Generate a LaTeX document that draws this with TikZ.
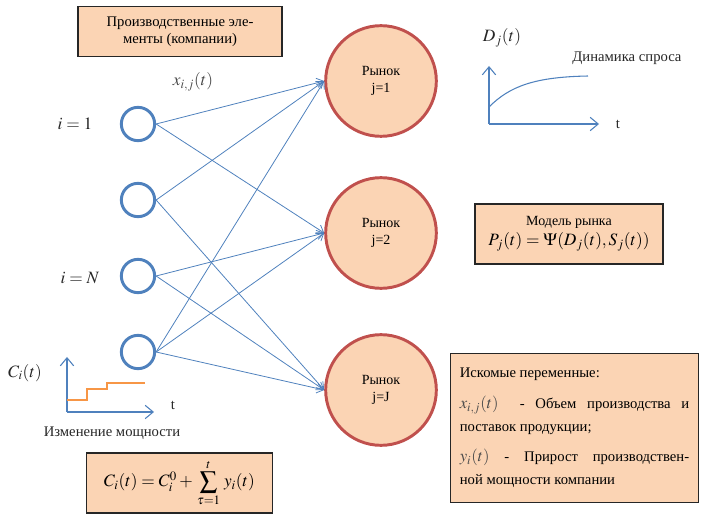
\documentclass[tikz,border=0pt]{standalone}
\usepackage{mathptmx}
\usepackage[no-math]{fontspec}
\setmainfont{Liberation Serif}
\usetikzlibrary{arrows.meta,positioning}
\definecolor{ink}{HTML}{262626}
\definecolor{mathgray}{HTML}{4A4A4A}
\definecolor{peach}{HTML}{FBD4B4}
\definecolor{mktred}{HTML}{C0504D}
\definecolor{flowblue}{HTML}{4F81BD}
\definecolor{steporange}{HTML}{F79646}
\tikzset{
  firm/.style={circle, draw=flowblue, line width=2.2pt, fill=white, minimum size=25pt, inner sep=0pt},
  market/.style={circle, draw=mktred, line width=2.2pt, fill=peach, minimum size=83pt, inner sep=0pt, align=center, font=\fontsize{10.5}{12.5}\selectfont},
  infobox/.style={rectangle, draw=ink, thick, fill=peach, align=center, inner sep=4pt},
  flow/.style={-{Straight Barb[length=5pt,width=7pt]}, draw=flowblue, line width=0.6pt},
  axis/.style={-{Straight Barb[length=6pt,width=10pt]}, draw=flowblue, line width=0.8pt}
}

\begin{document}
\begin{tikzpicture}[
  x=0.75pt, y=-0.75pt,
  font=\fontsize{11}{13}\selectfont,
  lbl/.style={inner sep=1pt, text=ink},
  mathlbl/.style={lbl, font=\fontsize{13}{15}\selectfont}
]
  \useasboundingbox (0,0) rectangle (701,524);

  \node[infobox, minimum width=153pt, minimum height=38pt] (firmsbox) at (180,31.5) {Производственные эле-\\менты (компании)};

  \node[firm] (firm1) at (138,124) {};
  \node[firm] (firm2) at (138,200) {};
  \node[firm] (firmN) at (138,276) {};
  \node[firm] (firm4) at (138,352) {};
  \node[mathlbl] (ione) at (75,124) {$i=1$};
  \node[mathlbl] (iN) at (80,278) {$i=N$};
  \node[mathlbl, text=mathgray] (xlabel) at (193,82) {$x_{i,j}(t)$};

  \node[market] (mkt1) at (381,81) {Рынок\\j=1};
  \node[market] (mkt2) at (381,233) {Рынок\\j=2};
  \node[market] (mkt3) at (381,390) {Рынок\\j=J};

  \draw[flow] (firm1.east) -- (mkt1.west);
  \draw[flow] (firm1.east) -- (mkt2.west);
  \draw[flow] (firm2.east) -- (mkt1.west);
  \draw[flow] (firm2.east) -- (mkt3.west);
  \draw[flow] (firmN.east) -- (mkt2.west);
  \draw[flow] (firmN.east) -- (mkt3.west);
  \draw[flow] (firm4.east) -- (mkt1.west);
  \draw[flow] (firm4.east) -- (mkt2.west);
  \draw[flow] (firm4.east) -- (mkt3.west);

  % demand dynamics
  \coordinate (dorig) at (489,124);
  \coordinate (dtop) at (489,66);
  \coordinate (dright) at (599,124);
  \coordinate (dstart) at (489,107);
  \coordinate (dend) at (588,76);
  \draw[axis] (dorig) -- (dtop);
  \draw[axis] (dorig) -- (dright);
  \draw[flowblue, line width=0.8pt] (dstart) .. controls (510,86) and (535,77) .. (dend);
  \node[mathlbl] (dlabel) at (502,38) {$D_j(t)$};
  \node[lbl] (dtext) at (627,58) {Динамика спроса};
  \node[lbl] (dt) at (618,124) {t};

  \node[infobox, minimum width=141pt, minimum height=45pt, inner sep=2pt] (modelbox) at (569,234)
    {{\fontsize{10.5}{12}\selectfont Модель рынка}\\[2pt]{\fontsize{13}{15}\selectfont $P_j(t)=\Psi(D_j(t),S_j(t))$}};

  \node[infobox, text width=172pt, align=justify, minimum height=112pt, inner sep=7pt, font=\fontsize{11}{17}\selectfont] (varsbox) at (574.5,428)
    {Искомые переменные:\\[6pt]
     {\fontsize{12.5}{13}\selectfont\color{mathgray}$x_{i,j}(t)$}\ \ - Объем производства и\linebreak поставок продукции;\\[6pt]
     {\fontsize{12.5}{13}\selectfont\color{mathgray}$y_i(t)$} - Прирост производствен-\linebreak ной мощности компании};

  % capacity change
  \coordinate (corig) at (67,412);
  \coordinate (ctop) at (67,357);
  \coordinate (cright) at (154,412);
  \draw[axis] (corig) -- (ctop);
  \draw[axis] (corig) -- (cright);
  \draw[steporange, line width=0.9pt] (67,400) -- (87,400) -- (87,389) -- (107,389) -- (107,383) -- (145,383);
  \node[mathlbl] (clabel) at (25,373) {$C_i(t)$};
  \node[lbl] (ct) at (173,405) {t};
  \node[lbl] (ctext) at (112,433) {Изменение мощности};

  \node[infobox, minimum width=140pt, minimum height=45pt, inner sep=2pt, font=\fontsize{13}{15}\selectfont] (capbox) at (179.5,483)
    {$C_i(t)=C_i^0+\,\displaystyle\sum_{\tau=1}^{t}\,y_i(t)$};
\end{tikzpicture}
\end{document}
